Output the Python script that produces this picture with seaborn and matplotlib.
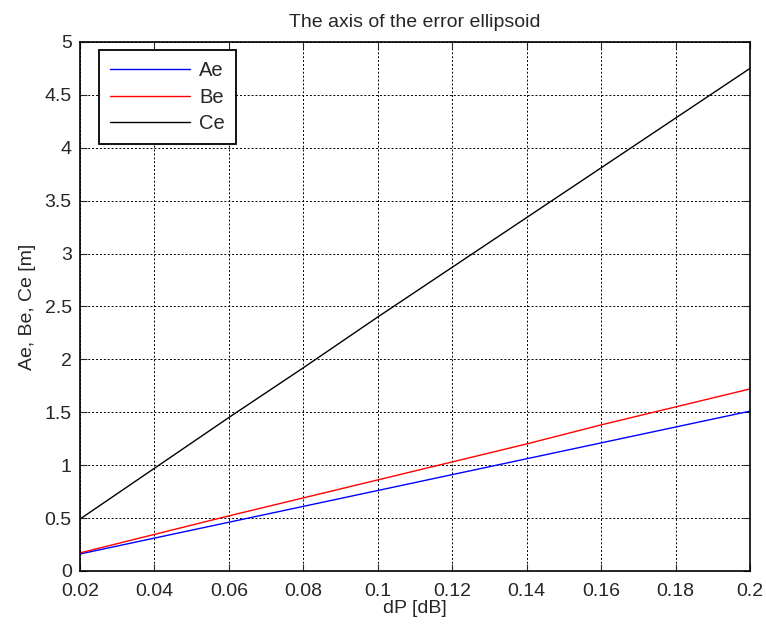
import matplotlib
matplotlib.use("Agg")
import matplotlib.pyplot as plt
import seaborn as sns
import pandas as pd

# valores
dP = [0.02, 0.04, 0.06, 0.08, 0.10, 0.12, 0.14, 0.16, 0.18, 0.20]
Ae = [0.16, 0.31, 0.46, 0.61, 0.76, 0.91, 1.06, 1.21, 1.36, 1.51]
Be = [0.17, 0.345, 0.52, 0.69, 0.86, 1.03, 1.20, 1.38, 1.55, 1.72]
Ce = [0.49, 0.97, 1.45, 1.92, 2.40, 2.87, 3.34, 3.81, 4.28, 4.75]
series = ["Ae", "Be", "Ce"]
cores = ["#0000ff", "#ff0000", "#000000"]

df = pd.DataFrame({"dP": dP, "Ae": Ae, "Be": Be, "Ce": Ce})
df_long = df.melt(id_vars="dP", var_name="serie", value_name="valor")

sns.set_style("ticks")
plt.rcParams["font.family"] = ["Liberation Sans", "DejaVu Sans"]
plt.rcParams["xtick.direction"] = "in"
plt.rcParams["ytick.direction"] = "in"

fig = plt.figure(figsize=(7.66, 6.26), dpi=100)
ax = fig.add_axes([0.1044, 0.088, 0.8747, 0.845])

sns.lineplot(data=df_long, x="dP", y="valor", hue="serie", hue_order=series,
             palette=cores, linewidth=1, ax=ax)

ax.set_xlim(0.02, 0.2)
ax.set_ylim(0, 5)
ax.set_xticks([0.02, 0.04, 0.06, 0.08, 0.1, 0.12, 0.14, 0.16, 0.18, 0.2])
ax.set_xticklabels(["0.02", "0.04", "0.06", "0.08", "0.1", "0.12", "0.14", "0.16", "0.18", "0.2"])
ax.set_yticks([0, 0.5, 1, 1.5, 2, 2.5, 3, 3.5, 4, 4.5, 5])
ax.set_yticklabels(["0", "0.5", "1", "1.5", "2", "2.5", "3", "3.5", "4", "4.5", "5"])
ax.tick_params(labelsize=14, length=5, width=0.8, top=True, right=True)
ax.tick_params(axis="x", pad=9)
ax.tick_params(axis="y", pad=6)
ax.grid(True, color="black", linestyle=(0, (2, 2)), linewidth=0.7)
for s in ax.spines.values():
    s.set_linewidth(1.2)
    s.set_color("black")

ax.set_title("The axis of the error ellipsoid", fontsize=14, pad=11)
ax.set_xlabel("dP [dB]", fontsize=14, labelpad=0)
ax.set_ylabel("Ae, Be, Ce [m]", fontsize=14, labelpad=6)

leg = ax.legend(loc="upper left", bbox_to_anchor=(0.028, 0.985), fontsize=14.5,
                handlelength=4.0, handletextpad=0.45, fancybox=False,
                edgecolor="black", framealpha=1, borderpad=0.55,
                labelspacing=0.38, borderaxespad=0)
leg.get_frame().set_linewidth(1.3)

fig.savefig("out.png", dpi=100)
